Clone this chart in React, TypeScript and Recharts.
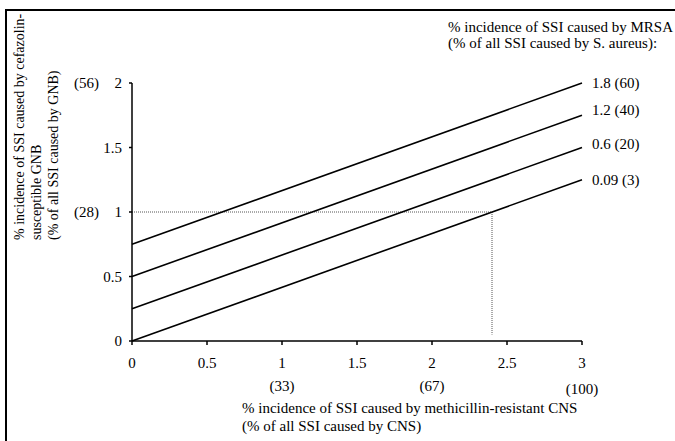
import React from "react";
import { LineChart, Line, XAxis, YAxis, ReferenceLine } from "recharts";

// x values where each line is sampled (% SSI caused by MR-CNS)
const cnsIncidence = [0, 3];

// one line per MRSA incidence level
const mrsa18 = [0.75, 2];
const mrsa12 = [0.5, 1.75];
const mrsa06 = [0.25, 1.5];
const mrsa009 = [0, 1.25];

const seriesNames = ["1.8 (60)", "1.2 (40)", "0.6 (20)", "0.09 (3)"];

const xTicks = [0, 0.5, 1, 1.5, 2, 2.5, 3];
const xAltLabels = ["", "", "(33)", "", "(67)", "", "(100)"];
const yTicks = [0, 0.5, 1, 1.5, 2];
const yAltLabels = ["", "", "(28)", "", "(56)"];

// threshold example: 1% GNB incidence crosses the 0.09 line at 2.4
const thresholdY = 1;
const thresholdX = 2.4;
const thresholdBottom = 0.05;

const data = cnsIncidence.map((x, i) => ({
  x,
  s18: mrsa18[i],
  s12: mrsa12[i],
  s06: mrsa06[i],
  s009: mrsa009[i],
}));

const FONT = '"Liberation Serif", "Times New Roman", serif';

const XTick = (props: any) => {
  const { x, y, payload, index } = props;
  const alt = xAltLabels[index];
  return (
    <g fontFamily={FONT} fontSize={15} fill="#000">
      <text x={x} y={y} textAnchor="middle" dominantBaseline="central">
        {payload.value}
      </text>
      {alt && (
        <text
          x={x}
          y={y + (index === xTicks.length - 1 ? 26 : 23)}
          textAnchor="middle"
          dominantBaseline="central"
        >
          {alt}
        </text>
      )}
    </g>
  );
};

const YTick = (props: any) => {
  const { x, y, payload, index } = props;
  const alt = yAltLabels[index];
  return (
    <g fontFamily={FONT} fontSize={15} fill="#000">
      <text x={x} y={y} textAnchor="end" dominantBaseline="central">
        {payload.value}
      </text>
      {alt && (
        <text x={x - 23} y={y} textAnchor="end" dominantBaseline="central">
          {alt}
        </text>
      )}
    </g>
  );
};

const endLabel = (text: string, dy: number) => (props: any) => {
  if (props.index !== data.length - 1) return null;
  return (
    <text
      x={props.x + 10}
      y={props.y + dy}
      fontFamily={FONT}
      fontSize={15}
      fill="#000"
      dominantBaseline="central"
    >
      {text}
    </text>
  );
};

const lines = [
  { key: "s18", dy: 0 },
  { key: "s12", dy: -5 },
  { key: "s06", dy: -4 },
  { key: "s009", dy: 0 },
];

export default function App() {
  return (
    <div
      style={{
        position: "absolute",
        left: 0,
        top: 0,
        width: 675,
        height: 441,
        background: "#fff",
        overflow: "hidden",
        fontFamily: FONT,
      }}
    >
      <div
        style={{
          position: "absolute",
          left: 5,
          top: 9,
          width: 700,
          height: 460,
          borderLeft: "2px solid #000",
          borderTop: "2px solid #000",
        }}
      />
      <LineChart
        width={675}
        height={441}
        data={data}
        margin={{ top: 83, right: 93, left: 72, bottom: 70 }}
        style={{ position: "absolute", left: 0, top: 0 }}
      >
        <XAxis
          type="number"
          dataKey="x"
          domain={[0, 3]}
          ticks={xTicks}
          height={30}
          stroke="#000"
          strokeWidth={1.5}
          tickSize={4}
          tickMargin={18}
          tick={<XTick />}
          tickLine={{ stroke: "#000", strokeWidth: 1.5 }}
        />
        <YAxis
          type="number"
          domain={[0, 2]}
          ticks={yTicks}
          width={60}
          stroke="#000"
          strokeWidth={1.5}
          tickSize={3}
          tickMargin={7}
          tick={<YTick />}
          tickLine={{ stroke: "#000", strokeWidth: 1.5 }}
        />
        <ReferenceLine
          segment={[
            { x: 0, y: thresholdY },
            { x: thresholdX, y: thresholdY },
          ]}
          stroke="#555"
          strokeWidth={1}
          strokeDasharray="1 1"
          ifOverflow="visible"
        />
        <ReferenceLine
          segment={[
            { x: thresholdX, y: thresholdY },
            { x: thresholdX, y: thresholdBottom },
          ]}
          stroke="#555"
          strokeWidth={1}
          strokeDasharray="1 1"
          ifOverflow="visible"
        />
        {lines.map((l, i) => (
          <Line
            key={l.key}
            type="linear"
            dataKey={l.key}
            stroke="#000"
            strokeWidth={1.6}
            dot={false}
            activeDot={false}
            isAnimationActive={false}
            label={endLabel(seriesNames[i], l.dy)}
          />
        ))}
        <g fontFamily={FONT} fontSize={15} fill="#000">
          <text x={448} y={27} dominantBaseline="central">
            % incidence of SSI caused by MRSA
          </text>
          <text x={448} y={43} dominantBaseline="central">
            (% of all SSI caused by S. aureus):
          </text>
          <text x={242} y={408} dominantBaseline="central">
            % incidence of SSI caused by methicillin-resistant CNS
          </text>
          <text x={242} y={426} dominantBaseline="central">
            (% of all SSI caused by CNS)
          </text>
        </g>
        <g fontFamily={FONT} fontSize={14} fill="#000">
          <text
            x={19}
            y={240}
            transform="rotate(-90 19 240)"
            dominantBaseline="central"
          >
            % incidence of SSI caused by cefazolin-
          </text>
          <text
            x={36}
            y={240}
            transform="rotate(-90 36 240)"
            dominantBaseline="central"
          >
            susceptible GNB
          </text>
          <text
            x={53}
            y={240}
            transform="rotate(-90 53 240)"
            dominantBaseline="central"
          >
            (% of all SSI caused by GNB)
          </text>
        </g>
      </LineChart>
    </div>
  );
}
